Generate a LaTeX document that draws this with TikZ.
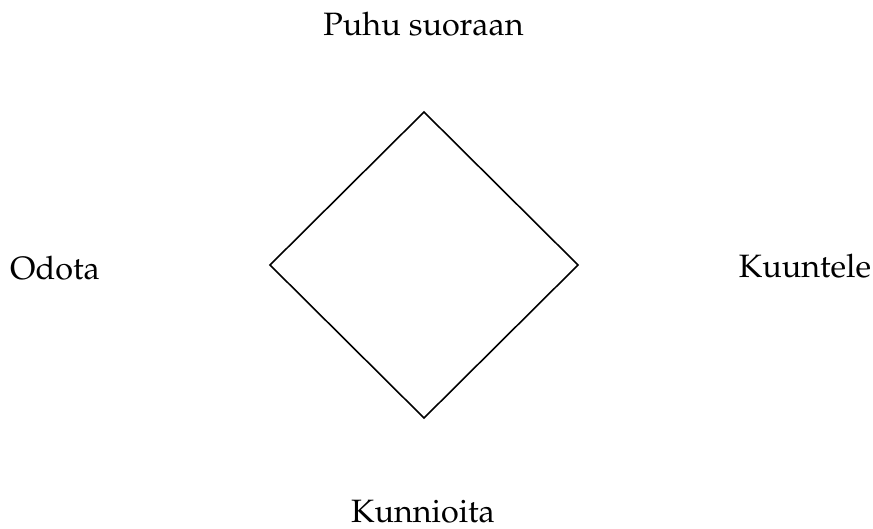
\documentclass[tikz,border=0pt]{standalone}
\usepackage[T1]{fontenc}
\usepackage{mathpazo}

\tikzset{
  sidelabel/.style={anchor=base, inner sep=0pt, font=\fontsize{9.2}{11}\selectfont},
}

\begin{document}
\begin{tikzpicture}
	\useasboundingbox (0,0) rectangle (8.73,5.28);
	% corners of the square
	\coordinate (top) at (4.24,4.16);
	\coordinate (left) at (2.70,2.63);
	\coordinate (right) at (5.78,2.63);
	\coordinate (bottom) at (4.24,1.10);
	\draw[line width=0.45pt, line join=miter] (top) -- (right) -- (bottom) -- (left) -- cycle;
	% labels
	\node[sidelabel] (puhu) at (4.235,4.92) {Puhu suoraan};
	\node[sidelabel] (odota) at (0.55,2.49) {Odota};
	\node[sidelabel] (kuuntele) at (8.05,2.51) {Kuuntele};
	\node[sidelabel] (kunnioita) at (4.23,0.06) {Kunnioita};
\end{tikzpicture}
\end{document}
